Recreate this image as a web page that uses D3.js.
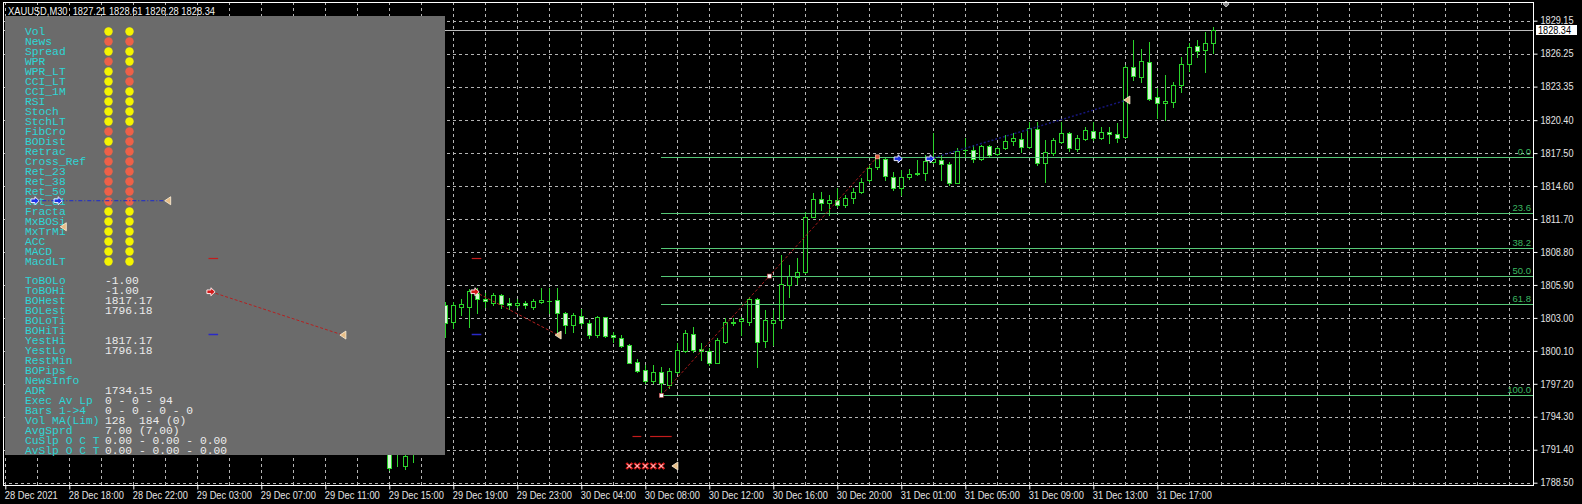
<!DOCTYPE html>
<html><head><meta charset="utf-8">
<script src="https://cdn.jsdelivr.net/npm/d3@7/dist/d3.min.js"></script>
<style>html,body{margin:0;padding:0;background:#000;overflow:hidden}</style>
</head><body>
<svg id="c" width="1582" height="504"></svg>
<script>
// ---------------- DATA ----------------
const symbolTitle = "XAUUSD,M30  1827.21 1828.61 1826.28 1828.34";
const priceTicks = [1788.50,1791.40,1794.30,1797.20,1800.10,1803.00,1805.90,1808.80,1811.70,1814.60,1817.50,1820.40,1823.35,1826.25,1829.15];
const timeLabels = ["28 Dec 2021","28 Dec 18:00","28 Dec 22:00","29 Dec 03:00","29 Dec 07:00","29 Dec 11:00","29 Dec 15:00","29 Dec 19:00","29 Dec 23:00","30 Dec 04:00","30 Dec 08:00","30 Dec 12:00","30 Dec 16:00","30 Dec 20:00","31 Dec 01:00","31 Dec 05:00","31 Dec 09:00","31 Dec 13:00","31 Dec 17:00"];
const timeLabelBars = [0,8,16,24,32,40,48,56,64,72,80,88,96,104,112,120,128,136,144];
const firstBar = 48;
const opens = [1791.9,1791.2,1789.95,1791.3,null,null,null,
1804.13,1802.66,1803.98,1803.93,1805.22,1804.64,1804.34,1805.01,1804.34,1804.11,1804.34,1803.98,1804.42,1804.51,1804.57,1803.40,1802.37,1803.17,1802.58,1801.49,1803.05,1801.47,1801.20,1800.61,1799.15,1798.42,1797.47,1798.21,1797.10,1798.27,1800.11,1801.58,1800.26,1800.11,1799.06,1800.91,1802.52,1802.75,1802.66,1804.64,1800.99,1802.58,1802.81,1805.89,1806.62,1807.06,1811.90,1813.43,1813.14,1813.37,1812.93,1813.52,1814.10,1815.13,1816.25,1816.95,1815.42,1814.40,1815.42,1815.63,1815.72,1816.74,1816.89,1816.51,1814.90,1817.75,1817.77,1816.95,1818.12,1817.42,1817.92,1818.59,1818.71,1818.06,1819.59,1816.66,1817.48,1818.50,1819.24,1817.83,1818.71,1819.47,1818.80,1819.38,1819.15,1818.89,1825.05,1824.22,1825.54,1822.41,1821.88,1822.02,1823.49,1825.34,1826.92,1826.57,1827.21];
const highs = [1792.6,1792.3,1791.6,1792.8,null,null,null,
1804.42,1804.42,1804.64,1805.52,1805.60,1805.16,1805.16,1805.06,1804.72,1804.64,1804.51,1804.64,1805.60,1805.60,1805.60,1803.54,1803.46,1803.76,1802.81,1803.17,1803.10,1801.78,1801.49,1800.70,1799.36,1798.86,1798.86,1798.71,1798.57,1800.76,1801.93,1802.22,1800.76,1800.32,1801.20,1802.96,1802.96,1803.10,1804.87,1804.72,1803.69,1803.69,1808.53,1807.65,1808.24,1812.34,1813.96,1814.10,1813.81,1814.40,1813.81,1814.40,1815.28,1816.45,1817.17,1817.05,1815.86,1816.01,1816.07,1816.89,1817.33,1819.24,1817.33,1816.74,1817.92,1818.83,1818.21,1818.21,1818.21,1818.06,1819.09,1819.24,1819.24,1820.26,1820.26,1818.65,1818.80,1820.26,1819.38,1819.09,1819.82,1820.26,1819.82,1819.82,1820.12,1825.25,1827.45,1826.63,1827.30,1823.20,1824.37,1823.78,1825.98,1827.21,1827.45,1828.18,1828.61];
const lows = [1789.62,1790.0,1789.7,1790.35,null,null,null,
1801.35,1802.11,1803.25,1802.17,1803.46,1803.98,1804.13,1803.84,1803.76,1803.93,1803.84,1803.76,1804.28,1803.40,1801.64,1801.64,1801.78,1802.37,1801.20,1801.35,1801.29,1800.91,1800.41,1799.00,1798.27,1797.24,1797.24,1796.18,1796.80,1798.12,1800.03,1800.03,1799.30,1798.86,1799.00,1800.76,1802.37,1801.49,1802.37,1798.65,1800.47,1800.61,1802.08,1804.87,1805.98,1806.92,1811.85,1812.49,1812.05,1812.78,1812.78,1813.14,1813.96,1814.98,1816.07,1815.13,1814.25,1813.81,1815.19,1815.57,1815.13,1816.60,1815.13,1814.69,1814.84,1817.16,1816.74,1816.89,1817.25,1817.33,1817.83,1818.21,1817.62,1817.92,1816.45,1814.98,1817.33,1818.36,1817.71,1817.71,1818.65,1818.65,1818.71,1818.42,1818.50,1818.80,1823.93,1823.78,1822.17,1820.56,1820.41,1821.58,1822.90,1824.75,1825.98,1824.66,1826.28];
const closes = [1789.77,1791.6,1790.85,1792.0,null,null,null,
1802.58,1804.13,1804.20,1805.39,1804.64,1804.49,1805.01,1804.20,1804.13,1804.34,1804.16,1804.49,1804.57,1804.47,1803.40,1802.37,1803.25,1802.52,1801.49,1803.05,1801.41,1801.29,1800.53,1799.06,1798.35,1797.47,1798.27,1797.24,1798.35,1800.17,1801.64,1800.17,1800.09,1799.06,1801.05,1802.66,1802.66,1802.90,1804.64,1800.91,1802.81,1802.81,1805.98,1806.71,1807.06,1811.85,1813.43,1813.14,1813.37,1812.93,1813.58,1814.10,1814.98,1816.16,1817.13,1815.49,1814.40,1815.42,1815.66,1815.78,1816.83,1816.95,1816.51,1814.90,1817.71,1817.80,1816.95,1818.12,1817.33,1817.92,1818.59,1818.80,1818.06,1819.68,1816.60,1817.62,1818.65,1819.30,1817.92,1818.80,1819.53,1818.80,1819.38,1819.18,1818.80,1825.05,1824.28,1825.60,1822.23,1821.88,1822.11,1823.49,1825.34,1826.86,1826.51,1827.20,1828.34];
const currentPrice = 1828.34;
const fibLevels = [0.0, 23.6, 38.2, 50.0, 61.8, 100.0];
const fibHighPrice = 1817.17, fibLowPrice = 1796.18, fibStartBar = 82;

const indicatorNames = ["Vol","News","Spread","WPR","WPR_LT","CCI_LT","CCI_1M","RSI","Stoch","StchLT","FibCro","BODist","Retrac","Cross_Ref","Ret_23","Ret_38","Ret_50","Ret_61","Fracta","MxBOSi","MxTrMi","ACC","MACD","MacdLT"];
const signalA = ["Y","R","Y","R","Y","Y","Y","Y","Y","Y","R","Y","R","R","R","R","R","R","Y","Y","Y","Y","Y","Y"];
const signalB = ["Y","R","Y","Y","R","R","Y","Y","Y","Y","R","R","R","R","R","R","R","R","Y","Y","Y","Y","Y","Y"];
const infoNames = ["ToBOLo","ToBOHi","BOHest","BOLest","BOLoTi","BOHiTi","YestHi","YestLo","RestMin","BOPips","NewsInfo","ADR","Exec Av Lp","Bars 1->4","Vol MA(Lim)","AvgSprd","CuSlp O C T","AvSlp O C T"];
const infoValues = ["-1.00","-1.00","1817.17","1796.18","","","1817.17","1796.18","","","","1734.15","0 - 0 - 94","0 - 0 - 0 - 0","128  184 (0)","7.00 (7.00)","0.00 - 0.00 - 0.00","0.00 - 0.00 - 0.00"];

// chart objects: [bar, price]
const zigzagPts = [[82,1796.18],[95.5,1806.68],[109,1817.17]];
const whiteSquares = [[82,1796.18],[95.5,1806.68]];
const redSquares = [[109,1817.17]];
const redDotLines = [[[58.7,1805.30],[69.1,1801.49]],[[25.7,1805.30],[42.2,1801.49]]];
const blueDashDot = [[3.5,1813.31],[20.3,1813.31]];
const blueTrend = [[115.6,1817.0],[140.2,1822.17]];
const blueArrows = [[3.7,1813.31],[6.6,1813.31],[111.6,1817.0],[115.6,1817.0]];
const redArrows = [[25.7,1805.30],[58.7,1805.30]];
const triangles = [[20.3,1813.31],[7.25,1811.02],[42.2,1801.49],[69.1,1801.49],[140.2,1822.17],[83.7,1789.97]];
const redDashes = [[25.4,26.6,1808.24],[58.3,59.5,1808.24],[78.4,79.5,1792.6],[80.6,83.3,1792.6]];
const blueDashes = [[25.4,26.6,1801.58],[58.3,59.5,1801.58]];
const crossMarks = [78,79,80,81,82];
const crossPrice = 1789.97;
const topDiamond = [152.6,1830.62];

// ---------------- DRAW ----------------
const svg = d3.select("#c");
const plot = {left:3, right:1533, top:2, bottom:485};
const x = d3.scaleLinear().domain([0,1]).range([5.3,13.3]);
const y = d3.scaleLinear().domain([1788.5,1829.15]).range([482.7,20.7]);
const r = v => Math.round(v)+0.5;

svg.append("rect").attr("width",1582).attr("height",504).attr("fill","#000");
svg.append("defs").append("clipPath").attr("id","pc").append("rect")
  .attr("x",plot.left).attr("y",plot.top).attr("width",plot.right-plot.left).attr("height",plot.bottom-plot.top);

const g = svg.append("g").attr("clip-path","url(#pc)");
// grid
const gridBars = d3.range(0,200,4).filter(i => x(i) < plot.right);
g.selectAll(".vg").data(gridBars).enter().append("line")
  .attr("x1",d=>r(x(d))).attr("x2",d=>r(x(d))).attr("y1",plot.top).attr("y2",plot.bottom)
  .attr("stroke","#b4b4b4").attr("stroke-dasharray","3,3").attr("shape-rendering","crispEdges");
g.selectAll(".hg").data(priceTicks).enter().append("line")
  .attr("x1",plot.left).attr("x2",plot.right).attr("y1",d=>r(y(d))).attr("y2",d=>r(y(d)))
  .attr("stroke","#b4b4b4").attr("stroke-dasharray","3,3").attr("shape-rendering","crispEdges");
// current price line
g.append("line").attr("x1",plot.left).attr("x2",plot.right).attr("y1",r(y(currentPrice))).attr("y2",r(y(currentPrice)))
  .attr("stroke","#bdbdbd").attr("shape-rendering","crispEdges");

// candles
const bars = opens.map((o,k)=>({i:firstBar+k,o,h:highs[k],l:lows[k],c:closes[k]})).filter(d=>d.o!==null);
const cg = g.append("g").attr("shape-rendering","crispEdges");
const green = "#2bd42b";
bars.forEach(d=>{
  const cx = Math.round(x(d.i));
  cg.append("line").attr("x1",cx+0.5).attr("x2",cx+0.5).attr("y1",Math.round(y(d.h))).attr("y2",Math.round(y(d.l))+1).attr("stroke",green);
  const bt = Math.round(y(Math.max(d.o,d.c))), bb = Math.round(y(Math.min(d.o,d.c)));
  if (bb-bt < 1) {
    cg.append("line").attr("x1",cx-2).attr("x2",cx+3).attr("y1",bt+0.5).attr("y2",bt+0.5).attr("stroke",green);
  } else {
    cg.append("rect").attr("x",cx-1.5).attr("y",bt+0.5).attr("width",4).attr("height",bb-bt)
      .attr("fill", d.c>=d.o ? "#000" : "#d2f7d2").attr("stroke",green);
  }
});

// fibonacci
const fibG = g.append("g");
fibLevels.forEach(lv=>{
  const p = fibHighPrice - lv/100*(fibHighPrice-fibLowPrice);
  const yy = r(y(p));
  fibG.append("line").attr("x1",x(fibStartBar)).attr("x2",plot.right).attr("y1",yy).attr("y2",yy)
    .attr("stroke","#55c877").attr("stroke-width",1).attr("shape-rendering","crispEdges");
  fibG.append("text").attr("x",plot.right-2).attr("y",yy-2.5).attr("text-anchor","end")
    .attr("fill","#3cb860").attr("font-family","Liberation Sans, Arial, sans-serif").attr("font-size","9.5px").text(lv.toFixed(1));
});

// chart objects (in plot)
const line = d3.line().x(d=>x(d[0])).y(d=>y(d[1]));
const og = svg.append("g");
og.append("path").attr("d",line(zigzagPts)).attr("fill","none").attr("stroke","#a01818").attr("stroke-dasharray","3,2").attr("stroke-width",1);
og.append("path").attr("d",line(blueTrend)).attr("fill","none").attr("stroke","#1c1c9a").attr("stroke-dasharray","2,2").attr("stroke-width",1.5).attr("opacity",0.8);

// panel
const panel = svg.append("g");
panel.append("rect").attr("x",5).attr("y",16).attr("width",440).attr("height",439).attr("fill","#6b6b6b");
const mono = "Liberation Mono, 'Courier New', monospace";
indicatorNames.forEach((n,k)=>{
  const cy = 31 + 10*k;
  panel.append("text").attr("x",25).attr("y",cy+3.5).attr("fill","#2ed6d6").attr("font-family",mono)
    .attr("font-size","11.3px").style("white-space","pre").text(n);
  [[108.5,signalA[k]],[129.5,signalB[k]]].forEach(([dx,s])=>{
    panel.append("circle").attr("cx",dx).attr("cy",cy+0.5).attr("r",4.2)
      .attr("fill", s==="Y" ? "#f4f400" : "#ee6048");
  });
});
infoNames.forEach((n,k)=>{
  const cy = 280.7 + 10*k;
  panel.append("text").attr("x",25).attr("y",cy+3.5).attr("fill","#2ed6d6").attr("font-family",mono)
    .attr("font-size","11.3px").style("white-space","pre").text(n);
  panel.append("text").attr("x",105).attr("y",cy+3.5).attr("fill","#ececec").attr("font-family",mono)
    .attr("font-size","11.3px").style("white-space","pre").text(infoValues[k]);
});

// objects on top of everything in the chart
const objG = svg.append("g");
redDotLines.forEach(pts=>{
  objG.append("path").attr("d",line(pts)).attr("fill","none").attr("stroke","#b52020").attr("stroke-dasharray","3,2");
});
objG.append("path").attr("d",line(blueDashDot)).attr("fill","none").attr("stroke","#1a2ad0").attr("stroke-dasharray","4,2,1,2");
redDashes.forEach(d=>{
  objG.append("line").attr("x1",x(d[0])).attr("x2",x(d[1])).attr("y1",r(y(d[2]))).attr("y2",r(y(d[2]))).attr("stroke","#c41c1c").attr("stroke-width",1.2);
});
blueDashes.forEach(d=>{
  objG.append("line").attr("x1",x(d[0])).attr("x2",x(d[1])).attr("y1",r(y(d[2]))).attr("y2",r(y(d[2]))).attr("stroke","#2a2ac8").attr("stroke-width",1.5);
});
const arrowPath = "M-4,-1.8 L0,-1.8 L0,-4 L4.2,0 L0,4 L0,1.8 L-4,1.8 Z";
blueArrows.forEach(d=>{
  objG.append("path").attr("d",arrowPath).attr("transform",`translate(${x(d[0])},${y(d[1])})`)
    .attr("fill","#1c30e8").attr("stroke","#e8ecff").attr("stroke-width",1);
});
redArrows.forEach(d=>{
  objG.append("path").attr("d",arrowPath).attr("transform",`translate(${x(d[0])},${y(d[1])})`)
    .attr("fill","#d41818").attr("stroke","#ffe8e8").attr("stroke-width",1);
});
triangles.forEach(d=>{
  objG.append("path").attr("d","M3,-4 L-3,0 L3,4 Z").attr("transform",`translate(${x(d[0])},${y(d[1])})`)
    .attr("fill","#e6bd86").attr("stroke","#fff3dc").attr("stroke-width",0.8);
});
whiteSquares.forEach(d=>{
  objG.append("rect").attr("x",x(d[0])-2).attr("y",y(d[1])-2).attr("width",4).attr("height",4)
    .attr("fill","#fff").attr("stroke","#c04040").attr("stroke-width",0.6);
});
redSquares.forEach(d=>{
  objG.append("rect").attr("x",x(d[0])-2).attr("y",y(d[1])-2).attr("width",4).attr("height",4)
    .attr("fill","#e05a3a").attr("stroke","#ffd0c0").attr("stroke-width",0.6);
});
crossMarks.forEach(b=>{
  objG.append("path").attr("d","M-3,-3 L3,3 M3,-3 L-3,3").attr("transform",`translate(${x(b)},${y(crossPrice)})`)
    .attr("stroke","#e02020").attr("stroke-width",2.4);
  objG.append("path").attr("d","M-2,-2 L2,2 M2,-2 L-2,2").attr("transform",`translate(${x(b)},${y(crossPrice)})`)
    .attr("stroke","#ffffff").attr("stroke-width",0.8);
});
objG.append("path").attr("d","M0,-3 L3,0 L0,3 L-3,0 Z").attr("transform",`translate(${x(topDiamond[0])},${Math.max(y(topDiamond[1]),4)})`)
  .attr("fill","#8a8a8a").attr("stroke","#dcdcdc").attr("stroke-width",0.8);

// border
svg.append("rect").attr("x",plot.left+0.5).attr("y",plot.top+0.5).attr("width",plot.right-plot.left).attr("height",plot.bottom-plot.top)
  .attr("fill","none").attr("stroke","#ffffff").attr("shape-rendering","crispEdges");

// axes
const sans = "Liberation Sans, Arial, sans-serif";
const yAxis = d3.axisRight(y).tickValues(priceTicks).tickFormat(d=>d.toFixed(2)).tickSize(4).tickPadding(3);
const ya = svg.append("g").attr("transform",`translate(${plot.right+0.5},0)`).call(yAxis);
ya.select(".domain").remove();
ya.selectAll("line").attr("stroke","#fff");
ya.selectAll("text").attr("fill","#e4e4e4").attr("font-family",sans).attr("font-size","10px")
  .attr("textLength",33).attr("lengthAdjust","spacingAndGlyphs");

const xAxis = d3.axisBottom(x).tickValues(timeLabelBars).tickFormat((d,i)=>timeLabels[i]).tickSize(4).tickPadding(2);
const xa = svg.append("g").attr("transform",`translate(0,${plot.bottom+0.5})`).call(xAxis);
xa.select(".domain").remove();
xa.selectAll("line").attr("stroke","#fff");
xa.selectAll("text").attr("fill","#e4e4e4").attr("font-family",sans).attr("font-size","10px")
  .attr("text-anchor","start").attr("dx",-1)
  .attr("textLength",(d,i)=> i===0 ? 53 : 55).attr("lengthAdjust","spacingAndGlyphs");

// current price tag
const cpy = y(currentPrice);
svg.append("rect").attr("x",1536).attr("y",Math.round(cpy)-5).attr("width",41).attr("height",10).attr("fill","#fff");
svg.append("text").attr("x",1538).attr("y",cpy+3.6).attr("fill","#000").attr("font-family",sans).attr("font-size","10px")
  .attr("textLength",33).attr("lengthAdjust","spacingAndGlyphs").text(currentPrice.toFixed(2));

// title
svg.append("text").attr("x",8).attr("y",14.8).attr("fill","#f2f2f2").attr("font-family",sans).attr("font-size","10.5px")
  .style("white-space","pre").attr("textLength",207).attr("lengthAdjust","spacingAndGlyphs").text(symbolTitle);
</script>
</body></html>
